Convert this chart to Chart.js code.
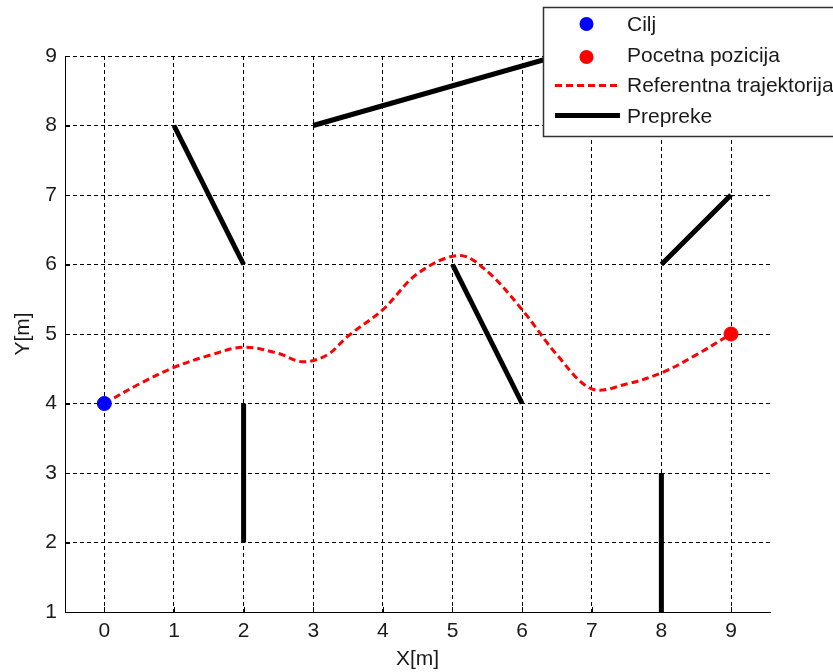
<!DOCTYPE html>
<html>
<head>
<meta charset="utf-8">
<script src="https://cdn.jsdelivr.net/npm/chart.js@4/dist/chart.umd.min.js"></script>
<style>
  html, body { margin: 0; padding: 0; background: #fff; }
  #wrap { width: 833px; height: 672px; position: relative; }
</style>
</head>
<body>
<div id="wrap"><canvas id="plot"></canvas></div>
<script>
// reference trajectory (red dashed)
const trajX = [0, 0.5, 1, 1.5, 2, 2.5, 2.85, 3.2, 3.5, 4, 4.5, 5.1, 5.5, 6, 6.5, 7, 7.5, 8, 8.5, 9];
const trajY = [4, 4.28, 4.52, 4.69, 4.81, 4.72, 4.6, 4.7, 4.97, 5.35, 5.87, 6.13, 5.9, 5.35, 4.7, 4.21, 4.28, 4.44, 4.7, 5];

// obstacles: segment start / end points
const obsX1 = [1, 2, 3, 5, 8, 8];
const obsY1 = [8, 4, 8, 6, 6, 3];
const obsX2 = [2, 2, 6.5, 6, 9, 8];
const obsY2 = [6, 2, 9, 4, 7, 1];

const goal  = { x: 0, y: 4 };   // Cilj
const start = { x: 9, y: 5 };   // Pocetna pozicija

const xTicks = [0, 1, 2, 3, 4, 5, 6, 7, 8, 9];
const yTicks = [1, 2, 3, 4, 5, 6, 7, 8, 9];

const legendLabels = ['Cilj', 'Pocetna pozicija', 'Referentna trajektorija', 'Prepreke'];

const FONT = '"Liberation Sans", Arial, sans-serif';
const TXT = '#1a1a1a';

const datasets = [
  { label: legendLabels[0], data: [goal], backgroundColor: '#0000ff', borderColor: '#0000ff',
    pointRadius: 7, showLine: false },
  { label: legendLabels[1], data: [start], backgroundColor: '#ff0000', borderColor: '#ff0000',
    pointRadius: 7, showLine: false },
  { label: legendLabels[2], data: trajX.map((x, i) => ({ x, y: trajY[i] })),
    showLine: true, borderColor: '#ff0000', borderWidth: 3, borderDash: [7, 4],
    pointRadius: 0, tension: 0.35, fill: false },
];
obsX1.forEach((x, i) => {
  datasets.push({
    label: legendLabels[3], data: [{ x, y: obsY1[i] }, { x: obsX2[i], y: obsY2[i] }],
    showLine: true, borderColor: '#000', borderWidth: 5, borderCapStyle: 'butt',
    pointRadius: 0, fill: false,
  });
});

// small inward tick marks (box-off style axes)
const innerTicks = {
  id: 'innerTicks',
  beforeDatasetsDraw(chart) {
    const { ctx, chartArea: a, scales: { x, y } } = chart;
    ctx.save();
    ctx.strokeStyle = '#000';
    ctx.lineWidth = 1;
    ctx.beginPath();
    xTicks.forEach(v => {
      const px = Math.round(x.getPixelForValue(v)) + 0.5;
      ctx.moveTo(px, a.bottom); ctx.lineTo(px, a.bottom - 5);
    });
    yTicks.forEach(v => {
      const py = Math.round(y.getPixelForValue(v)) + 0.5;
      ctx.moveTo(a.left, py); ctx.lineTo(a.left + 5, py);
    });
    ctx.stroke();
    ctx.restore();
  }
};

// MATLAB-like legend box in the upper right corner
const boxLegend = {
  id: 'boxLegend',
  afterDraw(chart) {
    const ctx = chart.ctx;
    const left = 543, top = 7, bottom = 136;
    ctx.save();
    ctx.fillStyle = '#fff';
    ctx.fillRect(left, top, 300, bottom - top);
    ctx.strokeStyle = '#333';
    ctx.lineWidth = 1.5;
    ctx.strokeRect(left + 0.5, top + 0.5, 320, bottom - top);

    const rows = [25.5, 56.5, 86.5, 117];
    // markers
    ctx.fillStyle = '#0000ff';
    ctx.beginPath(); ctx.arc(586.5, 24, 7, 0, Math.PI * 2); ctx.fill();
    ctx.fillStyle = '#ff0000';
    ctx.beginPath(); ctx.arc(586.5, 57, 7, 0, Math.PI * 2); ctx.fill();
    ctx.strokeStyle = '#ff0000';
    ctx.lineWidth = 3;
    ctx.setLineDash([7, 4]);
    ctx.beginPath(); ctx.moveTo(555, 85.5); ctx.lineTo(618, 85.5); ctx.stroke();
    ctx.setLineDash([]);
    ctx.strokeStyle = '#000';
    ctx.lineWidth = 5;
    ctx.beginPath(); ctx.moveTo(555, 115.5); ctx.lineTo(620, 115.5); ctx.stroke();

    ctx.fillStyle = TXT;
    ctx.font = '21px ' + FONT;
    ctx.textBaseline = 'middle';
    ctx.textAlign = 'left';
    legendLabels.forEach((t, i) => ctx.fillText(t, 627, rows[i]));
    ctx.restore();
  }
};

new Chart(document.getElementById('plot'), {
  type: 'scatter',
  data: { datasets },
  options: {
    responsive: true,
    maintainAspectRatio: false,
    animation: false,
    events: [],
    layout: { padding: { top: 56, right: 63, left: 0, bottom: 0 } },
    plugins: { legend: { display: false }, tooltip: { enabled: false } },
    scales: {
      x: {
        type: 'linear', min: -0.565, max: 9.56,
        afterBuildTicks: s => { s.ticks = xTicks.map(v => ({ value: v })); },
        afterFit: s => { s.height = 60; },
        grid: { color: '#000', lineWidth: 1, drawTicks: false },
        border: { display: true, color: '#000', width: 1, dash: [4, 3] },
        ticks: { color: TXT, font: { family: FONT, size: 21 }, padding: 7, maxRotation: 0 },
        title: { display: true, text: 'X[m]', color: TXT, font: { family: FONT, size: 21 },
                 padding: { top: 0, bottom: 0 } },
      },
      y: {
        type: 'linear', min: 1, max: 9,
        afterBuildTicks: s => { s.ticks = yTicks.map(v => ({ value: v })); },
        afterFit: s => { s.width = 65; },
        grid: { color: '#000', lineWidth: 1, drawTicks: false },
        border: { display: true, color: '#000', width: 1, dash: [4, 3] },
        ticks: { color: TXT, font: { family: FONT, size: 21 }, padding: 8 },
        title: { display: true, text: 'Y[m]', color: TXT, font: { family: FONT, size: 21 },
                 padding: { top: 11, bottom: 0 } },
      },
    },
  },
  plugins: [innerTicks, boxLegend],
});
</script>
</body>
</html>
